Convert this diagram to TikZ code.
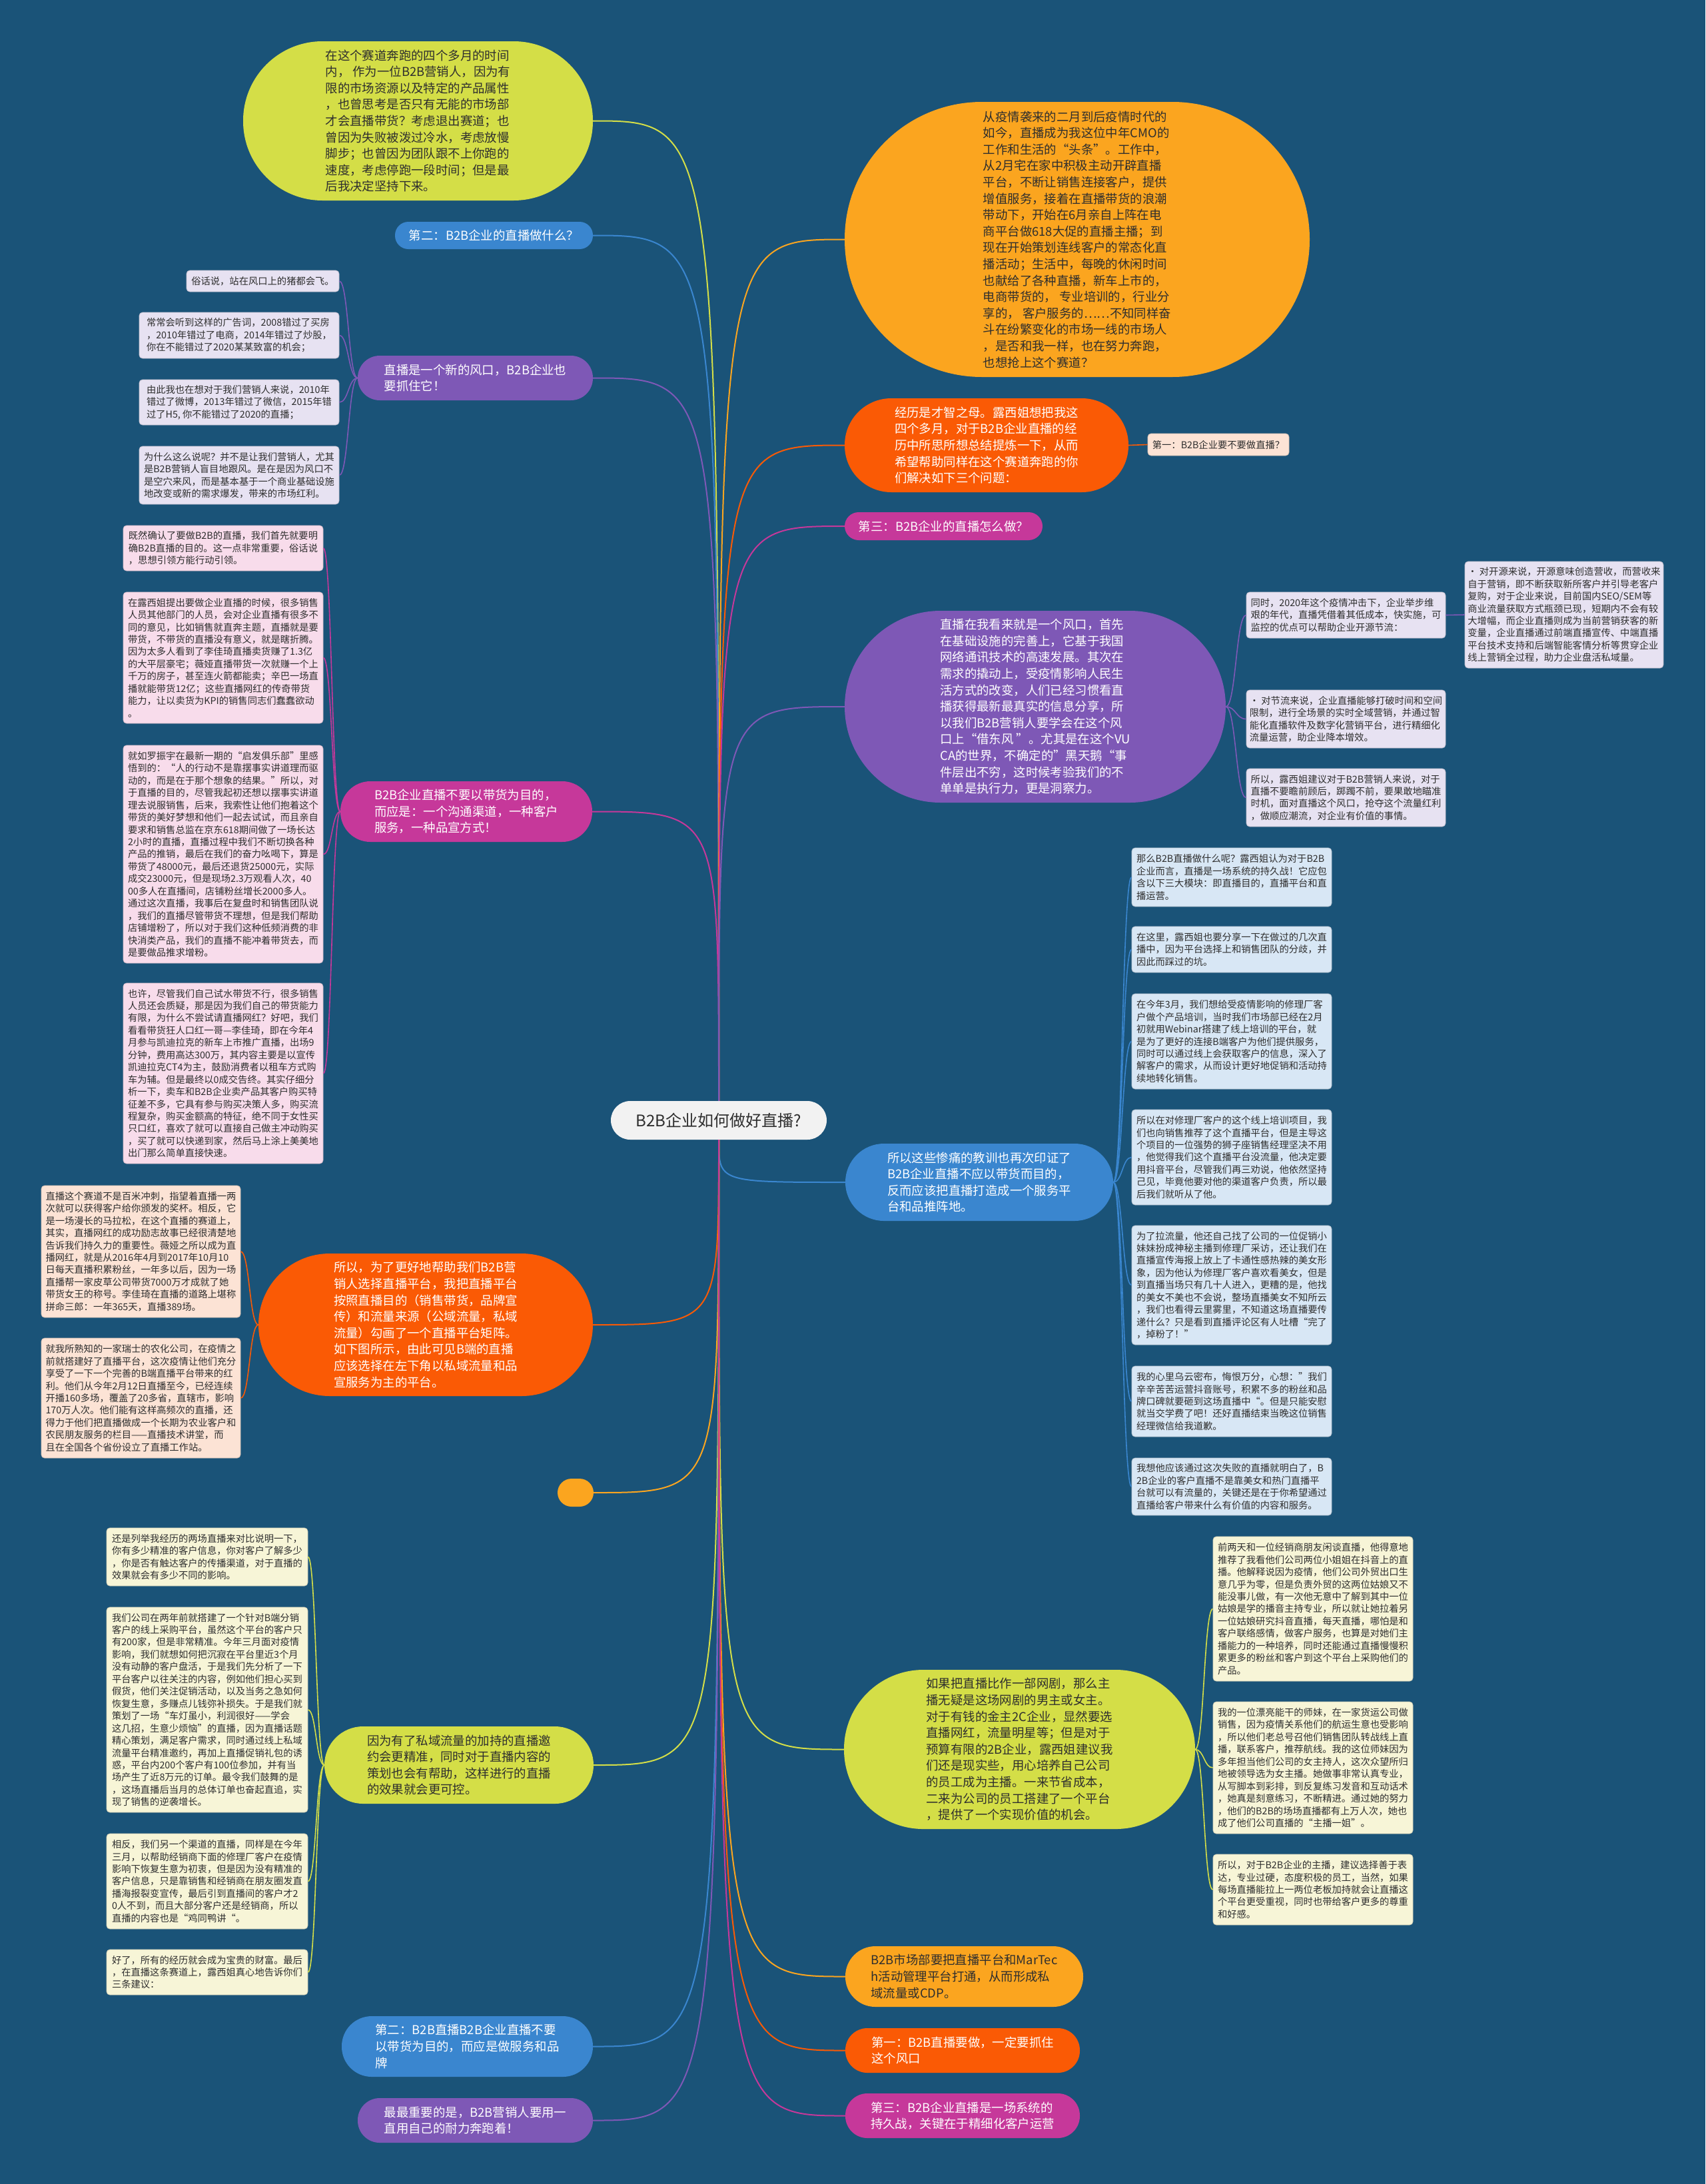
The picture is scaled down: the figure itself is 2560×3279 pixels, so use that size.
\documentclass[tikz,border=0pt]{standalone}
\usepackage{fontspec}
\setmainfont{Noto Sans CJK SC}
\usetikzlibrary{calc}
\definecolor{bg}{HTML}{1A5378}
\definecolor{clime}{HTML}{D4DE47}
\definecolor{cblue}{HTML}{3A86CF}
\definecolor{cpurple}{HTML}{7E58B6}
\definecolor{cmag}{HTML}{C6389A}
\definecolor{corange}{HTML}{FA5A05}
\definecolor{camber}{HTML}{FBA51F}
\definecolor{ccenter}{HTML}{F2F2F2}
\definecolor{dk}{HTML}{2E2E2E}
\definecolor{nlav}{HTML}{E7E2F2}
\definecolor{npink}{HTML}{F8DCEB}
\definecolor{npeach}{HTML}{FCE3D5}
\definecolor{ncream}{HTML}{F7F5D7}
\definecolor{nblue}{HTML}{D8E7F5}
\newcommand\lkone[3]{\draw[#1,line width=2pt] let \p1=(#2), \p2=(#3) in (\p1) .. controls (\x1,\y2) .. (\p2);}
\newcommand\lktwo[3]{\draw[#1,line width=1.6pt] let \p1=(#2), \p2=(#3) in (\p1) .. controls ({(\x1+\x2)/2},\y1) and ({(\x1+\x2)/2},\y2) .. (\p2);}
\tikzset{
  mn/.style={align=left, inner sep=0pt, font=\fontsize{18.4}{24.6}\selectfont},
  nt/.style={align=left, inner sep=0pt, rounded corners=5pt, line width=0.8pt, text=dk, font=\fontsize{14.3}{18.45}\selectfont},
  ntlav/.style={nt, fill=nlav, draw=nlav!85!black},
  ntpink/.style={nt, fill=npink, draw=npink!85!black},
  ntpeach/.style={nt, fill=npeach, draw=npeach!85!black},
  ntcream/.style={nt, fill=ncream, draw=ncream!85!black},
  ntblue/.style={nt, fill=nblue, draw=nblue!85!black},
}
\begin{document}
\begin{tikzpicture}[x=1pt,y=-1pt]
\useasboundingbox (0,0) rectangle (2560,3279);
\fill[bg] (0,0) rectangle (2560,3279);

% ---------- centre ----------
\node[align=center, inner sep=0pt, fill=ccenter, text=dk, minimum width=324pt, minimum height=58pt, rounded corners=29pt, font=\fontsize{24}{28}\selectfont] (C) at (1079,1682) {B2B企业如何做好直播?};

% ---------- left level 1 ----------
\node[mn, fill=clime, text=dk, minimum width=525pt, minimum height=239pt, rounded corners=119pt] (LY) at (627.5,181.5) {在这个赛道奔跑的四个多月的时间\\内， 作为一位B2B营销人，因为有\\限的市场资源以及特定的产品属性\\，也曾思考是否只有无能的市场部\\才会直播带货？考虑退出赛道；也\\曾因为失败被泼过冷水，考虑放慢\\脚步；也曾因为团队跟不上你跑的\\速度，考虑停跑一段时间；但是最\\后我决定坚持下来。};
\node[mn, fill=cblue, text=white, minimum width=297pt, minimum height=41pt, rounded corners=20pt] (LB) at (741.5,353.5) {第二：B2B企业的直播做什么？};
\node[mn, fill=cpurple, text=white, minimum width=353pt, minimum height=67pt, rounded corners=33pt] (LP) at (713.5,567.5) {直播是一个新的风口，B2B企业也\\要抓住它！};
\node[mn, fill=cmag, text=white, minimum width=378pt, minimum height=91pt, rounded corners=45pt] (LM) at (700,1218.5) {B2B企业直播不要以带货为目的，\\而应是：一个沟通渠道，一种客户\\服务，一种品宣方式！};
\node[mn, fill=corange, text=white, minimum width=502pt, minimum height=214pt, rounded corners=107pt] (LO) at (639,1989) {所以，为了更好地帮助我们B2B营\\销人选择直播平台，我把直播平台\\按照直播目的（销售带货，品牌宣\\传）和流量来源（公域流量，私域\\流量）勾画了一个直播平台矩阵。\\如下图所示，由此可见B端的直播\\应该选择在左下角以私域流量和品\\宣服务为主的平台。};
\node[mn, fill=camber, minimum width=54pt, minimum height=42pt, rounded corners=21pt] (LA) at (864,2241) {};
\node[mn, fill=clime, text=dk, minimum width=404pt, minimum height=116pt, rounded corners=58pt] (LL) at (689,2650) {因为有了私域流量的加持的直播邀\\约会更精准，同时对于直播内容的\\策划也会有帮助，这样进行的直播\\的效果就会更可控。};
\node[mn, fill=cblue, text=white, minimum width=377pt, minimum height=91pt, rounded corners=45pt] (LBb) at (701.5,3072.5) {第二：B2B直播B2B企业直播不要\\以带货为目的，而应是做服务和品\\牌};
\node[mn, fill=cpurple, text=white, minimum width=353pt, minimum height=67pt, rounded corners=33pt] (LPb) at (713.5,3183.5) {最最重要的是，B2B营销人要用一\\直用自己的耐力奔跑着！};

% ---------- right level 1 ----------
\node[mn, fill=camber, text=dk, minimum width=698pt, minimum height=413pt, rounded corners=206pt] (RA) at (1617,359.5) {从疫情袭来的二月到后疫情时代的\\如今，直播成为我这位中年CMO的\\工作和生活的“头条”。工作中，\\从2月宅在家中积极主动开辟直播\\平台，不断让销售连接客户，提供\\增值服务，接着在直播带货的浪潮\\带动下，开始在6月亲自上阵在电\\商平台做618大促的直播主播；到\\现在开始策划连线客户的常态化直\\播活动；生活中，每晚的休闲时间\\也献给了各种直播，新车上市的，\\电商带货的， 专业培训的，行业分\\享的， 客户服务的……不知同样奋\\斗在纷繁变化的市场一线的市场人\\，是否和我一样，也在努力奔跑，\\也想抢上这个赛道？};
\node[mn, fill=corange, text=white, minimum width=426pt, minimum height=141pt, rounded corners=70pt] (RO) at (1481,668.5) {经历是才智之母。露西姐想把我这\\四个多月，对于B2B企业直播的经\\历中所思所想总结提炼一下，从而\\希望帮助同样在这个赛道奔跑的你\\们解决如下三个问题：};
\node[mn, fill=cmag, text=white, minimum width=297pt, minimum height=42pt, rounded corners=21pt] (RM) at (1416.5,790) {第三：B2B企业的直播怎么做？};
\node[mn, fill=cpurple, text=white, minimum width=572pt, minimum height=288pt, rounded corners=144pt] (RP) at (1554,1061) {直播在我看来就是一个风口，首先\\在基础设施的完善上，它基于我国\\网络通讯技术的高速发展。其次在\\需求的撬动上，受疫情影响人民生\\活方式的改变，人们已经习惯看直\\播获得最新最真实的信息分享，所\\以我们B2B营销人要学会在这个风\\口上“借东风 ”。尤其是在这个VU\\CA的世界，不确定的”黑天鹅“事\\件层出不穷，这时候考验我们的不\\单单是执行力，更是洞察力。};
\node[mn, fill=cblue, text=white, minimum width=402pt, minimum height=116pt, rounded corners=58pt] (RB) at (1470,1775) {所以这些惨痛的教训也再次印证了\\B2B企业直播不应以带货而目的，\\反而应该把直播打造成一个服务平\\台和品推阵地。};
\node[mn, fill=clime, text=dk, minimum width=527pt, minimum height=239pt, rounded corners=119pt] (RL) at (1530.5,2626.5) {如果把直播比作一部网剧，那么主\\播无疑是这场网剧的男主或女主。\\对于有钱的金主2C企业，显然要选\\直播网红，流量明星等；但是对于\\预算有限的2B企业，露西姐建议我\\们还是现实些，用心培养自己公司\\的员工成为主播。一来节省成本，\\二来为公司的员工搭建了一个平台\\，提供了一个实现价值的机会。};
\node[mn, fill=camber, text=dk, minimum width=357pt, minimum height=91pt, rounded corners=45pt] (RAb) at (1447.5,2967.5) {B2B市场部要把直播平台和MarTec\\h活动管理平台打通，从而形成私\\域流量或CDP。};
\node[mn, fill=corange, text=white, minimum width=352pt, minimum height=67pt, rounded corners=33pt] (ROb) at (1445,3078.5) {第一：B2B直播要做，一定要抓住\\这个风口};
\node[mn, fill=cmag, text=white, minimum width=352pt, minimum height=67pt, rounded corners=33pt] (RMb) at (1445,3176.5) {第三：B2B企业直播是一场系统的\\持久战，关键在于精细化客户运营};

% ---------- notes: purple left ----------
\node[ntlav, minimum width=229pt, minimum height=32pt] (a1) at (394.5,422) {俗话说，站在风口上的猪都会飞。};
\node[ntlav, minimum width=300pt, minimum height=69pt] (a2) at (359,503.5) {常常会听到这样的广告词，2008错过了买房\\，2010年错过了电商，2014年错过了炒股，\\你在不能错过了2020某某致富的机会；};
\node[ntlav, minimum width=300pt, minimum height=68pt] (a3) at (359,604) {由此我也在想对于我们营销人来说，2010年\\错过了微博，2013年错过了微信，2015年错\\过了H5, 你不能错过了2020的直播；};
\node[ntlav, minimum width=300pt, minimum height=87pt] (a4) at (359,713.5) {为什么这么说呢？并不是让我们营销人，尤其\\是B2B营销人盲目地跟风。是在是因为风口不\\是空穴来风，而是基本基于一个商业基础设施\\地改变或新的需求爆发，带来的市场红利。};

% ---------- notes: magenta left ----------
\node[ntpink, minimum width=300pt, minimum height=68pt] (b1) at (335,823) {既然确认了要做B2B的直播，我们首先就要明\\确B2B直播的目的。这一点非常重要，俗话说\\，思想引领方能行动引领。};
\node[ntpink, minimum width=300pt, minimum height=197pt] (b2) at (335,987.5) {在露西姐提出要做企业直播的时候，很多销售\\人员其他部门的人员，会对企业直播有很多不\\同的意见，比如销售就直奔主题，直播就是要\\带货，不带货的直播没有意义，就是瞎折腾。\\因为太多人看到了李佳琦直播卖货赚了1.3亿\\的大平层豪宅；薇娅直播带货一次就赚一个上\\千万的房子，甚至连火箭都能卖；辛巴一场直\\播就能带货12亿；这些直播网红的传奇带货\\能力，让以卖货为KPI的销售同志们蠢蠢欲动\\。};
\node[ntpink, minimum width=300pt, minimum height=327pt] (b3) at (335,1282.5) {就如罗振宇在最新一期的“启发俱乐部”里感\\悟到的：“人的行动不是靠摆事实讲道理而驱\\动的，而是在于那个想象的结果。”所以，对\\于直播的目的，尽管我起初还想以摆事实讲道\\理去说服销售，后来，我索性让他们抱着这个\\带货的美好梦想和他们一起去试试，而且亲自\\要求和销售总监在京东618期间做了一场长达\\2小时的直播，直播过程中我们不断切换各种\\产品的推销，最后在我们的奋力吆喝下，算是\\带货了48000元，最后还退货25000元，实际\\成交23000元，但是现场2.3万观看人次，40\\00多人在直播间，店铺粉丝增长2000多人。\\通过这次直播，我事后在复盘时和销售团队说\\，我们的直播尽管带货不理想，但是我们帮助\\店铺增粉了，所以对于我们这种低频消费的非\\快消类产品，我们的直播不能冲着带货去，而\\是要做品推求增粉。};
\node[ntpink, minimum width=300pt, minimum height=271pt] (b4) at (335,1611.5) {也许，尽管我们自己试水带货不行，很多销售\\人员还会质疑，那是因为我们自己的带货能力\\有限，为什么不尝试请直播网红？好吧，我们\\看看带货狂人口红一哥—李佳琦，即在今年4\\月参与凯迪拉克的新车上市推广直播，出场9\\分钟，费用高达300万，其内容主要是以宣传\\凯迪拉克CT4为主，鼓励消费者以租车方式购\\车为辅。但是最终以0成交告终。其实仔细分\\析一下，卖车和B2B企业卖产品其客户购买特\\征差不多，它具有参与购买决策人多，购买流\\程复杂，购买金额高的特征，绝不同于女性买\\只口红，喜欢了就可以直接自己做主冲动购买\\，买了就可以快递到家，然后马上涂上美美地\\出门那么简单直接快速。};

% ---------- notes: orange left ----------
\node[ntpeach, minimum width=299pt, minimum height=198pt] (c1) at (211.5,1879) {直播这个赛道不是百米冲刺，指望着直播一两\\次就可以获得客户给你颁发的奖杯。相反，它\\是一场漫长的马拉松，在这个直播的赛道上，\\其实，直播网红的成功励志故事已经很清楚地\\告诉我们持久力的重要性。薇娅之所以成为直\\播网红，就是从2016年4月到2017年10月10\\日每天直播积累粉丝，一年多以后，因为一场\\直播帮一家皮草公司带货7000万才成就了她\\带货女王的称号。李佳琦在直播的道路上堪称\\拼命三郎：一年365天，直播389场。};
\node[ntpeach, minimum width=299pt, minimum height=180pt] (c2) at (211.5,2099) {就我所熟知的一家瑞士的农化公司，在疫情之\\前就搭建好了直播平台，这次疫情让他们充分\\享受了一下一个完善的B端直播平台带来的红\\利。他们从今年2月12日直播至今，已经连续\\开播160多场，覆盖了20多省，直辖市，影响\\170万人次。他们能有这样高频次的直播，还\\得力于他们把直播做成一个长期为农业客户和\\农民朋友服务的栏目——直播技术讲堂，而\\且在全国各个省份设立了直播工作站。};

% ---------- notes: lime left ----------
\node[ntcream, minimum width=302pt, minimum height=87pt] (d1) at (311,2337.5) {还是列举我经历的两场直播来对比说明一下，\\你有多少精准的客户信息，你对客户了解多少\\，你是否有触达客户的传播渠道，对于直播的\\效果就会有多少不同的影响。};
\node[ntcream, minimum width=302pt, minimum height=308pt] (d2) at (311,2567) {我们公司在两年前就搭建了一个针对B端分销\\客户的线上采购平台，虽然这个平台的客户只\\有200家，但是非常精准。今年三月面对疫情\\影响，我们就想如何把沉寂在平台里近3个月\\没有动静的客户盘活，于是我们先分析了一下\\平台客户以往关注的内容，例如他们担心买到\\假货，他们关注促销活动，以及当务之急如何\\恢复生意，多赚点儿钱弥补损失。于是我们就\\策划了一场“车灯虽小，利润很好——学会\\这几招，生意少烦恼”的直播，因为直播话题\\精心策划，满足客户需求，同时通过线上私域\\流量平台精准邀约，再加上直播促销礼包的诱\\惑，平台内200个客户有100位参加，并有当\\场产生了近8万元的订单。最令我们鼓舞的是\\，这场直播后当月的总体订单也奋起直追，实\\现了销售的逆袭增长。};
\node[ntcream, minimum width=302pt, minimum height=143pt] (d3) at (311,2824.5) {相反，我们另一个渠道的直播，同样是在今年\\三月，以帮助经销商下面的修理厂客户在疫情\\影响下恢复生意为初衷，但是因为没有精准的\\客户信息，只是靠销售和经销商在朋友圈发直\\播海报裂变宣传，最后引到直播间的客户才2\\0人不到，而且大部分客户还是经销商，所以\\直播的内容也是“鸡同鸭讲“。};
\node[ntcream, minimum width=302pt, minimum height=68pt] (d4) at (311,2961) {好了，所有的经历就会成为宝贵的财富。最后\\，在直播这条赛道上，露西姐真心地告诉你们\\三条建议：};

% ---------- notes: right ----------
\node[ntpeach, minimum width=212pt, minimum height=33pt] (o1) at (1829,667.5) {第一：B2B企业要不要做直播？};

\node[ntlav, minimum width=299pt, minimum height=69pt] (e1) at (2020.5,923.5) {同时，2020年这个疫情冲击下，企业举步维\\艰的年代，直播凭借着其低成本，快实施，可\\监控的优点可以帮助企业开源节流：};
\node[ntlav, minimum width=298pt, minimum height=160pt] (e1a) at (2348,923) {· 对开源来说，开源意味创造营收，而营收来\\自于营销，即不断获取新所客户并引导老客户\\复购，对于企业来说，目前国内SEO/SEM等\\商业流量获取方式瓶颈已现，短期内不会有较\\大增幅，而企业直播则成为当前营销获客的新\\变量，企业直播通过前端直播宣传、中端直播\\平台技术支持和后端智能客情分析等贯穿企业\\线上营销全过程，助力企业盘活私域量。};
\node[ntlav, minimum width=299pt, minimum height=87pt] (e2) at (2020.5,1079.5) {· 对节流来说，企业直播能够打破时间和空间\\限制，进行全场景的实时全域营销，并通过智\\能化直播软件及数字化营销平台，进行精细化\\流量运营，助企业降本增效。};
\node[ntlav, minimum width=299pt, minimum height=87pt] (e3) at (2020.5,1197.5) {所以，露西姐建议对于B2B营销人来说，对于\\直播不要瞻前顾后，踯躅不前，要果敢地瞄准\\时机，面对直播这个风口，抢夺这个流量红利\\，做顺应潮流，对企业有价值的事情。};

\node[ntblue, minimum width=300pt, minimum height=88pt] (f1) at (1849,1317) {那么B2B直播做什么呢？露西姐认为对于B2B\\企业而言，直播是一场系统的持久战！它应包\\含以下三大模块：即直播目的，直播平台和直\\播运营。};
\node[ntblue, minimum width=300pt, minimum height=69pt] (f2) at (1849,1425.5) {在这里，露西姐也要分享一下在做过的几次直\\播中，因为平台选择上和销售团队的分歧，并\\因此而踩过的坑。};
\node[ntblue, minimum width=300pt, minimum height=143pt] (f3) at (1849,1563.5) {在今年3月，我们想给受疫情影响的修理厂客\\户做个产品培训，当时我们市场部已经在2月\\初就用Webinar搭建了线上培训的平台，就\\是为了更好的连接B端客户为他们提供服务，\\同时可以通过线上会获取客户的信息，深入了\\解客户的需求，从而设计更好地促销和活动持\\续地转化销售。};
\node[ntblue, minimum width=300pt, minimum height=143pt] (f4) at (1849,1737.5) {所以在对修理厂客户的这个线上培训项目，我\\们也向销售推荐了这个直播平台，但是主导这\\个项目的一位强势的狮子座销售经理坚决不用\\，他觉得我们这个直播平台没流量，他决定要\\用抖音平台，尽管我们再三劝说，他依然坚持\\己见，毕竟他要对他的渠道客户负责，所以最\\后我们就听从了他。};
\node[ntblue, minimum width=300pt, minimum height=179pt] (f5) at (1849,1929.5) {为了拉流量，他还自己找了公司的一位促销小\\妹妹扮成神秘主播到修理厂采访，还让我们在\\直播宣传海报上放上了卡通性感热辣的美女形\\象，因为他认为修理厂客户喜欢看美女，但是\\到直播当场只有几十人进入，更糟的是，他找\\的美女不美也不会说，整场直播美女不知所云\\，我们也看得云里雾里，不知道这场直播要传\\递什么？只是看到直播评论区有人吐槽“完了\\，掉粉了！”};
\node[ntblue, minimum width=300pt, minimum height=106pt] (f6) at (1849,2104) {我的心里乌云密布，悔恨万分，心想：”我们\\辛辛苦苦运营抖音账号，积累不多的粉丝和品\\牌口碑就要砸到这场直播中“。但是只能安慰\\就当交学费了吧！还好直播结束当晚这位销售\\经理微信给我道歉。};
\node[ntblue, minimum width=300pt, minimum height=86pt] (f7) at (1849,2232) {我想他应该通过这次失败的直播就明白了，B\\2B企业的客户直播不是靠美女和热门直播平\\台就可以有流量的，关键还是在于你希望通过\\直播给客户带来什么有价值的内容和服务。};

\node[ntcream, minimum width=300pt, minimum height=217pt] (g1) at (1971,2415.5) {前两天和一位经销商朋友闲谈直播，他得意地\\推荐了我看他们公司两位小姐姐在抖音上的直\\播。他解释说因为疫情，他们公司外贸出口生\\意几乎为零，但是负责外贸的这两位姑娘又不\\能没事儿做，有一次他无意中了解到其中一位\\姑娘是学的播音主持专业，所以就让她拉着另\\一位姑娘研究抖音直播，每天直播，哪怕是和\\客户联络感情，做客户服务，也算是对她们主\\播能力的一种培养，同时还能通过直播慢慢积\\累更多的粉丝和客户到这个平台上采购他们的\\产品。};
\node[ntcream, minimum width=300pt, minimum height=198pt] (g2) at (1971,2654) {我的一位漂亮能干的师妹，在一家货运公司做\\销售，因为疫情关系他们的航运生意也受影响\\，所以他们老总号召他们销售团队转战线上直\\播，联系客户，推荐航线。我的这位师妹因为\\多年担当他们公司的女主持人，这次众望所归\\地被领导选为女主播。她做事非常认真专业，\\从写脚本到彩排，到反复练习发音和互动话术\\，她真是刻意练习，不断精进。通过她的努力\\，他们的B2B的场场直播都有上万人次，她也\\成了他们公司直播的“主播一姐”。};
\node[ntcream, minimum width=300pt, minimum height=106pt] (g3) at (1971,2837) {所以，对于B2B企业的主播，建议选择善于表\\达，专业过硬，态度积极的员工，当然，如果\\每场直播能拉上一两位老板加持就会让直播这\\个平台更受重视，同时也带给客户更多的尊重\\和好感。};

% ---------- connectors level 1 ----------
\begin{scope}[on background layer/.try]
\end{scope}
\lkone{clime}{C.north}{LY.east}
\lkone{cblue}{C.north}{LB.east}
\lkone{cpurple}{C.north}{LP.east}
\lkone{cmag}{C.north}{LM.east}
\lkone{corange}{C.south}{LO.east}
\lkone{camber}{C.south}{LA.east}
\lkone{clime}{C.south}{LL.east}
\lkone{cblue}{C.south}{LBb.east}
\lkone{cpurple}{C.south}{LPb.east}
\lkone{camber}{C.north}{RA.west}
\lkone{corange}{C.north}{RO.west}
\lkone{cmag}{C.north}{RM.west}
\lkone{cpurple}{C.north}{RP.west}
\lkone{cblue}{C.south}{RB.west}
\lkone{clime}{C.south}{RL.west}
\lkone{camber}{C.south}{RAb.west}
\lkone{corange}{C.south}{ROb.west}
\lkone{cmag}{C.south}{RMb.west}

% ---------- connectors level 2 ----------
\lktwo{cpurple}{LP.west}{a1.east}
\lktwo{cpurple}{LP.west}{a2.east}
\lktwo{cpurple}{LP.west}{a3.east}
\lktwo{cpurple}{LP.west}{a4.east}
\lktwo{cmag}{LM.west}{b1.east}
\lktwo{cmag}{LM.west}{b2.east}
\lktwo{cmag}{LM.west}{b3.east}
\lktwo{cmag}{LM.west}{b4.east}
\lktwo{corange}{LO.west}{c1.east}
\lktwo{corange}{LO.west}{c2.east}
\lktwo{clime}{LL.west}{d1.east}
\lktwo{clime}{LL.west}{d2.east}
\lktwo{clime}{LL.west}{d3.east}
\lktwo{clime}{LL.west}{d4.east}
\lktwo{corange}{RO.east}{o1.west}
\lktwo{cpurple}{RP.east}{e1.west}
\lktwo{cpurple}{e1.east}{e1a.west}
\lktwo{cpurple}{RP.east}{e2.west}
\lktwo{cpurple}{RP.east}{e3.west}
\lktwo{cblue}{RB.east}{f1.west}
\lktwo{cblue}{RB.east}{f2.west}
\lktwo{cblue}{RB.east}{f3.west}
\lktwo{cblue}{RB.east}{f4.west}
\lktwo{cblue}{RB.east}{f5.west}
\lktwo{cblue}{RB.east}{f6.west}
\lktwo{cblue}{RB.east}{f7.west}
\lktwo{clime}{RL.east}{g1.west}
\lktwo{clime}{RL.east}{g2.west}
\lktwo{clime}{RL.east}{g3.west}
\end{tikzpicture}
\end{document}
